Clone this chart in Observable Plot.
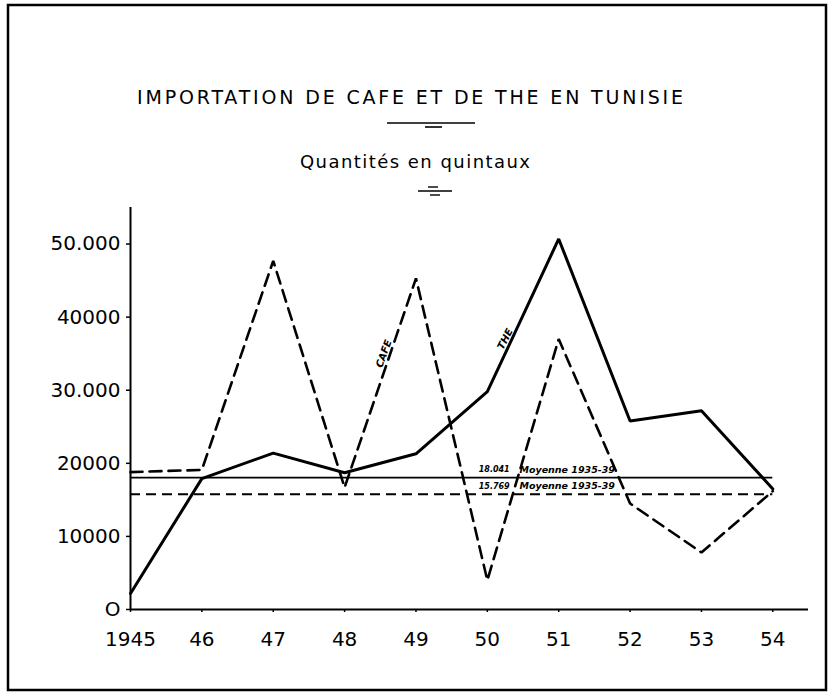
<!DOCTYPE html>
<html>
<head>
<meta charset="utf-8">
<script src="https://cdn.jsdelivr.net/npm/d3@7"></script>
<script src="https://cdn.jsdelivr.net/npm/@observablehq/plot@0.6"></script>
<style>
  html, body { margin: 0; padding: 0; background: #fff; }
  #wrap { position: relative; width: 831px; height: 696px; overflow: hidden; background: #fff; }
  #wrap > svg.plot { position: absolute; left: 0; top: 0; }
  #deco { position: absolute; left: 0; top: 0; pointer-events: none; }
</style>
</head>
<body>
<div id="wrap"></div>
<script>
// ---- data ----
const years = [1945, 1946, 1947, 1948, 1949, 1950, 1951, 1952, 1953, 1954];
const yearLabels = ["1945", "46", "47", "48", "49", "50", "51", "52", "53", "54"];
const theValues = [2200, 17900, 21400, 18700, 21300, 29800, 50700, 25800, 27200, 16500];
const cafeValues = [18800, 19100, 47700, 16700, 45300, 4000, 37000, 14500, 7800, 16200];
const meanThe = 18041;
const meanCafe = 15769;
const meanLabels = ["18.041", "15.769"];
const meanNote = "Moyenne 1935-39";
const yTicks = [0, 10000, 20000, 30000, 40000, 50000];
const yTickLabels = ["O", "10000", "20000", "30.000", "40000", "50.000"];
const seriesNames = ["THE", "CAFE"];
const title = "IMPORTATION DE CAFE ET DE THE EN TUNISIE";
const subtitle = "Quantités en quintaux";

const theData = years.map((year, i) => ({year, value: theValues[i]}));
const cafeData = years.map((year, i) => ({year, value: cafeValues[i]}));
const meanData = [
  {value: meanThe, label: meanLabels[0]},
  {value: meanCafe, label: meanLabels[1]}
];

const font = "DejaVu Sans, sans-serif";

const chart = Plot.plot({
  width: 831,
  height: 696,
  marginLeft: 130,
  marginRight: 23,
  marginTop: 207,
  marginBottom: 87,
  style: {fontFamily: font, fontSize: "20px", color: "#000", background: "transparent"},
  x: {type: "linear", domain: [1945, 1954.5]},
  y: {domain: [0, 55000]},
  marks: [
    Plot.axisY({ticks: yTicks, tickFormat: (d) => yTickLabels[yTicks.indexOf(d)], tickSize: 4, tickPadding: 6, fontSize: 20, label: null, strokeWidth: 1.5}),
    Plot.axisX({ticks: years, tickFormat: (d) => yearLabels[years.indexOf(d)], tickSize: 3, tickPadding: 19, fontSize: 20, label: null, strokeWidth: 1.5}),
    Plot.ruleY([0], {strokeWidth: 2}),
    Plot.ruleX([years[0]], {strokeWidth: 2}),
    // means 1935-39
    Plot.ruleY([meanThe], {x1: years[0], x2: years[years.length - 1], strokeWidth: 1.6}),
    Plot.ruleY([meanCafe], {x1: years[0], x2: years[years.length - 1], strokeWidth: 2, strokeDasharray: "10,6"}),
    Plot.text(meanData, {x: 1949.88, y: "value", text: "label", textAnchor: "start", dy: -8, fontSize: 8, fontWeight: "bold", fontStyle: "italic"}),
    Plot.text(meanData, {x: 1950.45, y: "value", text: () => meanNote, textAnchor: "start", dy: -8, fontSize: 9.5, fontWeight: "bold", fontStyle: "italic"}),
    // series
    Plot.line(cafeData, {x: "year", y: "value", strokeWidth: 2.6, strokeDasharray: "12,7", strokeLinejoin: "miter"}),
    Plot.line(theData, {x: "year", y: "value", strokeWidth: 3, strokeLinejoin: "miter"}),
    // series labels along the lines
    Plot.text([seriesNames[1]], {x: 1948.55, y: 35000, text: (d) => d, rotate: -70, fontSize: 10, fontWeight: "bold", fontStyle: "italic"}),
    Plot.text([seriesNames[0]], {x: 1950.25, y: 37000, text: (d) => d, rotate: -63, fontSize: 10, fontWeight: "bold", fontStyle: "italic"})
  ]
});
chart.classList.add("plot");
document.getElementById("wrap").appendChild(chart);

// ---- decorations: frame, title, subtitle, ornaments ----
const deco = d3.select("#wrap").append("svg")
  .attr("id", "deco").attr("width", 831).attr("height", 696);

deco.append("rect").attr("x", 8).attr("y", 5).attr("width", 818).attr("height", 685)
  .attr("fill", "none").attr("stroke", "#000").attr("stroke-width", 2.5);

deco.append("text").attr("x", 137).attr("y", 104)
  .attr("textLength", 546).attr("lengthAdjust", "spacing")
  .attr("font-family", font).attr("font-size", 19).attr("fill", "#000")
  .text(title);

deco.append("line").attr("x1", 387).attr("x2", 475).attr("y1", 123).attr("y2", 123).attr("stroke", "#000").attr("stroke-width", 1.6);
deco.append("line").attr("x1", 425).attr("x2", 442).attr("y1", 127).attr("y2", 127).attr("stroke", "#000").attr("stroke-width", 1.6);

deco.append("text").attr("x", 300).attr("y", 168)
  .attr("textLength", 230).attr("lengthAdjust", "spacing")
  .attr("font-family", font).attr("font-size", 18).attr("fill", "#000")
  .text(subtitle);

deco.append("line").attr("x1", 418).attr("x2", 452).attr("y1", 191).attr("y2", 191).attr("stroke", "#000").attr("stroke-width", 1.6);
deco.append("line").attr("x1", 428).attr("x2", 438).attr("y1", 187).attr("y2", 187).attr("stroke", "#000").attr("stroke-width", 1.4);
deco.append("line").attr("x1", 430).attr("x2", 440).attr("y1", 195).attr("y2", 195).attr("stroke", "#000").attr("stroke-width", 1.4);
</script>
</body>
</html>
